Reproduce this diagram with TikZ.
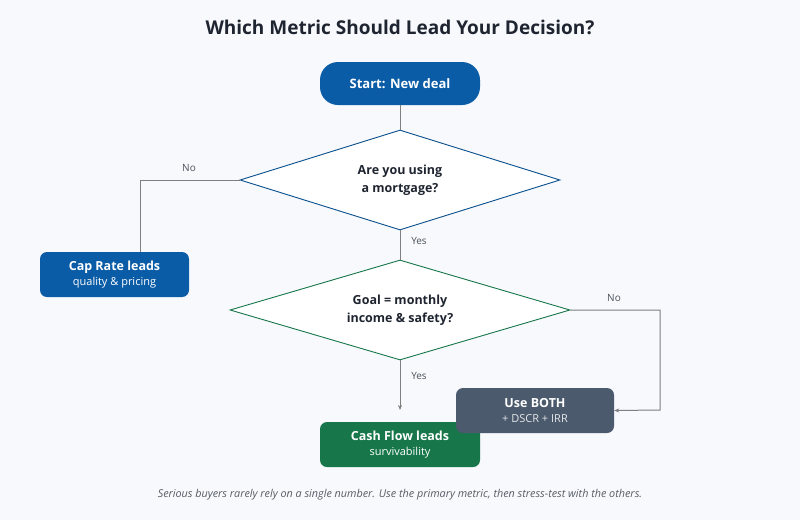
\documentclass[tikz,border=0pt]{standalone}
\usepackage{fontspec}
\setmainfont{Open Sans}
\usetikzlibrary{shapes.geometric,arrows.meta}
\definecolor{bg}{HTML}{F7F9FC}
\definecolor{bluef}{HTML}{0B5CA6}
\definecolor{greenf}{HTML}{17774A}
\definecolor{grayf}{HTML}{4B5A6C}
\definecolor{lin}{HTML}{7F7F7F}
\definecolor{txt}{HTML}{1F2530}
\begin{document}
\begin{tikzpicture}[x=1pt,y=-1pt,
  box/.style={rounded corners=7pt,text=white,align=center,inner sep=0pt},
  dia/.style={diamond,fill=white,draw,line width=0.9pt,inner sep=0pt,minimum width=#1,minimum height=100pt,aspect=3.2,align=center,font=\bfseries\fontsize{12.5}{18}\selectfont,text=txt},
  con/.style={draw=lin,line width=1pt},
  arr/.style={con,-{Stealth[length=5pt,width=4pt]}},
  lab/.style={font=\fontsize{10}{12}\selectfont,text=txt!80}]
\fill[bg] (0,0) rectangle (800,520);
\useasboundingbox (0,0) rectangle (800,520);
\node[font=\bfseries\fontsize{19}{22}\selectfont,text=txt] (title) at (400,27) {Which Metric Should Lead Your Decision?};
\node[box,fill=bluef,rounded corners=18pt,minimum width=160pt,minimum height=43pt,font=\bfseries\fontsize{13}{15}\selectfont] (start) at (400,83.5) {Start: New deal};
\node[dia=320pt,draw=bluef!85!black] (d1) at (400,180) {Are you using\\a mortgage?};
\node[dia=340pt,draw=greenf] (d2) at (400,310) {Goal = monthly\\income \& safety?};
\node[box,fill=bluef,minimum width=149pt,minimum height=45pt] (cap) at (114.5,274.5) {\bfseries\fontsize{12.5}{15}\selectfont Cap Rate leads\\[3pt]\mdseries\fontsize{11}{12}\selectfont quality \& pricing};
\node[box,fill=greenf,minimum width=160pt,minimum height=45pt] (cf) at (400,444.5) {\bfseries\fontsize{12.5}{15}\selectfont Cash Flow leads\\[3pt]\mdseries\fontsize{11}{12}\selectfont survivability};
\node[box,fill=grayf,minimum width=158pt,minimum height=45pt] (both) at (535,410.5) {\bfseries\fontsize{12.5}{15}\selectfont Use BOTH\\[3pt]\mdseries\fontsize{11}{12}\selectfont\color{white!85!grayf} + DSCR + IRR};
\coordinate (cfin) at (400,410);
\path[con] (start.south) -- (d1.north);
\path[con] (d1.west) -- (140,180) -- (140,252);
\path[con] (d1.south) -- (d2.north);
\path[arr] (d2.south) -- (cfin);
\path[arr] (d2.east) -- (660,310) -- (660,410) -- (both.east);
\node[lab] (n1) at (189,168) {No};
\node[lab] (y1) at (419,241) {Yes};
\node[lab] (n2) at (614,298) {No};
\node[lab] (y2) at (419,376) {Yes};
\node[font=\itshape\fontsize{10.8}{12}\selectfont,text=txt!75] (foot) at (400,495) {Serious buyers rarely rely on a single number. Use the primary metric, then stress-test with the others.};
\end{tikzpicture}
\end{document}
